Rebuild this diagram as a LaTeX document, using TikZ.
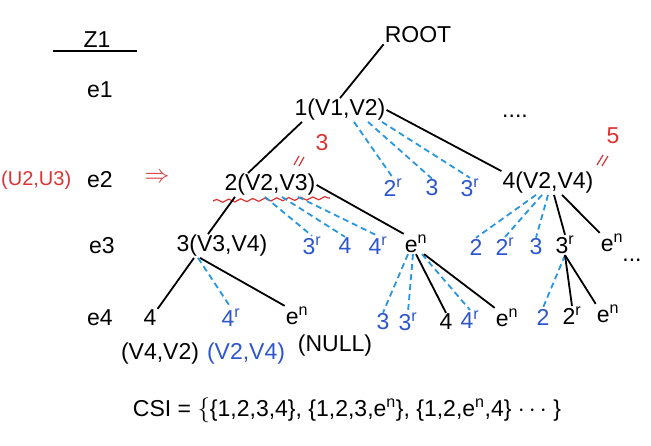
\documentclass[tikz,border=0pt]{standalone}
\usepackage{fontspec}
\setmainfont{Liberation Sans}
\usetikzlibrary{decorations.pathmorphing}
\definecolor{bt}{RGB}{45,85,205}
\definecolor{bl}{RGB}{40,150,225}
\definecolor{rd}{RGB}{220,50,50}
\begin{document}
\begin{tikzpicture}[x=1pt,y=-1pt,
  every node/.style={inner sep=1pt,font=\fontsize{23}{26}\selectfont},
  t/.style={text=black}, b/.style={text=bt}, r/.style={text=rd},
  sl/.style={line width=1.8pt}, dl/.style={line width=1.8pt,bl,dash pattern=on 6pt off 4pt}]
\useasboundingbox (0,0) rectangle (651,446);
% left column
\node (z1) at (97,40) {Z1};
\coordinate (ua) at (53,51); \coordinate (ub) at (137,51);
\draw[sl] (ua) -- (ub);
\node (e1) at (100,90) {e1};
\node (e2) at (100,180) {e2};
\node (e3) at (102,246) {e3};
\node (e4) at (100,318) {e4};
\node[r,anchor=west,inner sep=0pt,font=\fontsize{20}{24}\selectfont] (u23) at (1,180) {(U2,U3)};
\node[r,font=\fontsize{30}{30}\selectfont] (arr) at (157,178) {$\Rightarrow$};
% tree
\node (root) at (418,35) {ROOT};
\node (n1) at (340,110) {1(V1,V2)};
\node (dots1) at (515,116) {....};
\node (n2) at (270,185) {2(V2,V3)};
\node[b] (a2r) at (393,188) {2$^{\mathrm r}$};
\node[b] (a3) at (432,188) {3};
\node[b] (a3r) at (470,188) {3$^{\mathrm r}$};
\node (n4) at (548,183) {4(V2,V4)};
\node[r] (five) at (613,136) {5};
\node[r] (three) at (322,143) {3};
\draw[rd,line width=1.2pt] (597,165)--(603,155) (602,166)--(608,156);
\draw[rd,line width=1.2pt] (294,165)--(299,156) (299,166)--(304,157);
\draw[rd,line width=1.2pt,decorate,decoration={snake,amplitude=1.5pt,segment length=12pt}] (213,201) -- (330,198);
\node (n3) at (222,246) {3(V3,V4)};
\node[b] (b3r) at (312,246) {3$^{\mathrm r}$};
\node[b] (b4) at (345,246) {4};
\node[b] (b4r) at (378,246) {4$^{\mathrm r}$};
\node (en1) at (416,244) {e$^{\mathrm n}$};
\node[b] (c2) at (476,247) {2};
\node[b] (c2r) at (505,247) {2$^{\mathrm r}$};
\node[b] (c3) at (536,247) {3};
\node (c3r) at (565,245) {3$^{\mathrm r}$};
\node (en2) at (612,243) {e$^{\mathrm n}$};
\node (dots2) at (632,260) {...};
\node (d4) at (150,318) {4};
\node[b] (d4r) at (231,318) {4$^{\mathrm r}$};
\node (den) at (297,316) {e$^{\mathrm n}$};
\node[b] (f3) at (383,322) {3};
\node[b] (f3r) at (408,322) {3$^{\mathrm r}$};
\node (f4) at (446,322) {4};
\node[b] (f4r) at (470,320) {4$^{\mathrm r}$};
\node (fen) at (507,318) {e$^{\mathrm n}$};
\node[b] (g2) at (543,317) {2};
\node (g2r) at (572,316) {2$^{\mathrm r}$};
\node (gen) at (608,314) {e$^{\mathrm n}$};
\node (l1) at (160,354) {(V4,V2)};
\node[b] (l2) at (246,354) {(V2,V4)};
\node (l3) at (335,346) {(NULL)};
\node (csi) at (347,410) {CSI = $\Big\{$\{1,2,3,4\}, \{1,2,3,e$^{\mathrm n}$\}, \{1,2,e$^{\mathrm n}$,4\} $\cdots$ \}};
% edges
\draw[sl] (root.south west) -- (n1.north);
\draw[sl] ([xshift=-38pt]n1.south) -- ([xshift=-22pt]n2.north);
\draw[sl] (n1.east) -- (n4.north west);
\foreach \t/\d in {a2r/14,a3/28,a3r/42} \draw[dl] ([xshift=\d pt]n1.south) -- (\t.north);
\draw[sl] ([xshift=-35pt]n2.south) -- ([xshift=-14pt]n3.north);
\foreach \t/\d in {b3r/-5,b4/12,b4r/28} \draw[dl] ([xshift=\d pt]n2.south) -- (\t.north);
\draw[sl] (n2.east) -- (en1.north west);
\foreach \t/\d in {c2/-12,c2r/-6,c3/0} \draw[dl] ([xshift=\d pt]n4.south) -- (\t.north);
\draw[sl] ([xshift=6pt]n4.south) -- (c3r.north);
\draw[sl] ([xshift=14pt]n4.south) -- (en2.north west);
\draw[dl] (c3r.south) -- (g2.north);
\draw[sl] (c3r.south) -- (g2r.north);
\draw[sl] (c3r.south) -- (gen.north west);
\draw[sl] ([xshift=-28pt]n3.south) -- (d4.north east);
\draw[dl] ([xshift=-24pt]n3.south) -- (d4r.north);
\draw[sl] ([xshift=-22pt]n3.south) -- (den.north west);
\foreach \t/\d in {f3/-8,f3r/-3,f4r/6} \draw[dl] ([xshift=\d pt]en1.south) -- (\t.north);
\draw[sl] (en1.south) -- (f4.north);
\draw[sl] ([xshift=8pt]en1.south) -- (fen.north west);
\end{tikzpicture}
\end{document}
